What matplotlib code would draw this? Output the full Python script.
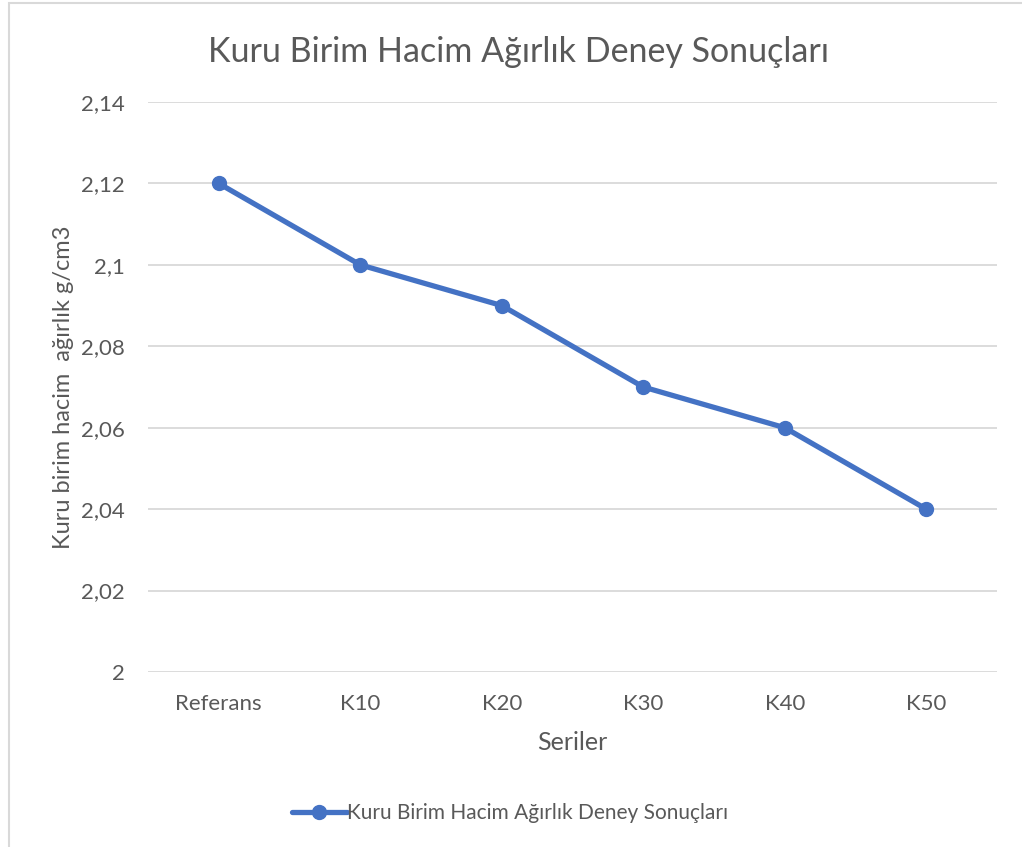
import matplotlib
matplotlib.use("Agg")
from matplotlib import pyplot as plt
from matplotlib.patches import Rectangle
from matplotlib.ticker import FuncFormatter

plt.rcParams['font.family'] = ['Lato', 'DejaVu Sans']

seriler = ["Referans", "K10", "K20", "K30", "K40", "K50"]
kuru_birim = [2.12, 2.10, 2.09, 2.07, 2.06, 2.04]
y_ticks = [2.00, 2.02, 2.04, 2.06, 2.08, 2.10, 2.12, 2.14]

baslik = "Kuru Birim Hacim Ağırlık Deney Sonuçları"
text_color = "#595959"
line_color = "#4472C4"

fig = plt.figure(figsize=(10.22, 8.47), dpi=100)
ax = fig.add_axes([148 / 1022, 1 - 672 / 847, 849 / 1022, 570 / 847])

# chart border (light gray, runs off the right/bottom edge)
fig.patches.append(Rectangle((9 / 1022, -0.1), 1.2, 1 - 3 / 847 + 0.1,
                             transform=fig.transFigure, fill=False,
                             edgecolor="#d9d9d9", linewidth=1.5))

x = range(len(seriler))
ax.plot(x, kuru_birim, color=line_color, linewidth=3.8, marker="o",
        markersize=10, solid_capstyle="round", label=baslik)

ax.set_xlim(-0.5, len(seriler) - 0.5)
ax.set_ylim(2.0, 2.14)
ax.set_yticks(y_ticks)

def virgul(v, pos):
    s = f"{v:.2f}".rstrip("0").rstrip(".")
    return s.replace(".", ",")

ax.yaxis.set_major_formatter(FuncFormatter(virgul))
ax.set_xticks(list(x))
ax.set_xticklabels(seriler)

ax.grid(axis="y", color="#d9d9d9", linewidth=1.3)
ax.set_axisbelow(True)
for s in ax.spines.values():
    s.set_visible(False)
ax.tick_params(axis="both", length=0, labelsize=16, labelcolor=text_color)
ax.tick_params(axis="y", pad=16.5)
ax.tick_params(axis="x", pad=16)

ax.set_xlabel("Seriler", fontsize=18, color=text_color, labelpad=12)
ax.set_ylabel("Kuru birim hacim  ağırlık g/cm3", fontsize=17,
              color=text_color, labelpad=5)

fig.text(518 / 1022, 1 - 52 / 847, baslik, ha="center", va="center",
         fontsize=24.5, color=text_color)

leg = fig.legend(loc="center", bbox_to_anchor=(510 / 1022, 1 - 813 / 847),
                 frameon=False, fontsize=15, handlelength=2.6,
                 handletextpad=0.0, labelcolor=text_color)

fig.savefig("out.png", dpi=100, facecolor="white")
